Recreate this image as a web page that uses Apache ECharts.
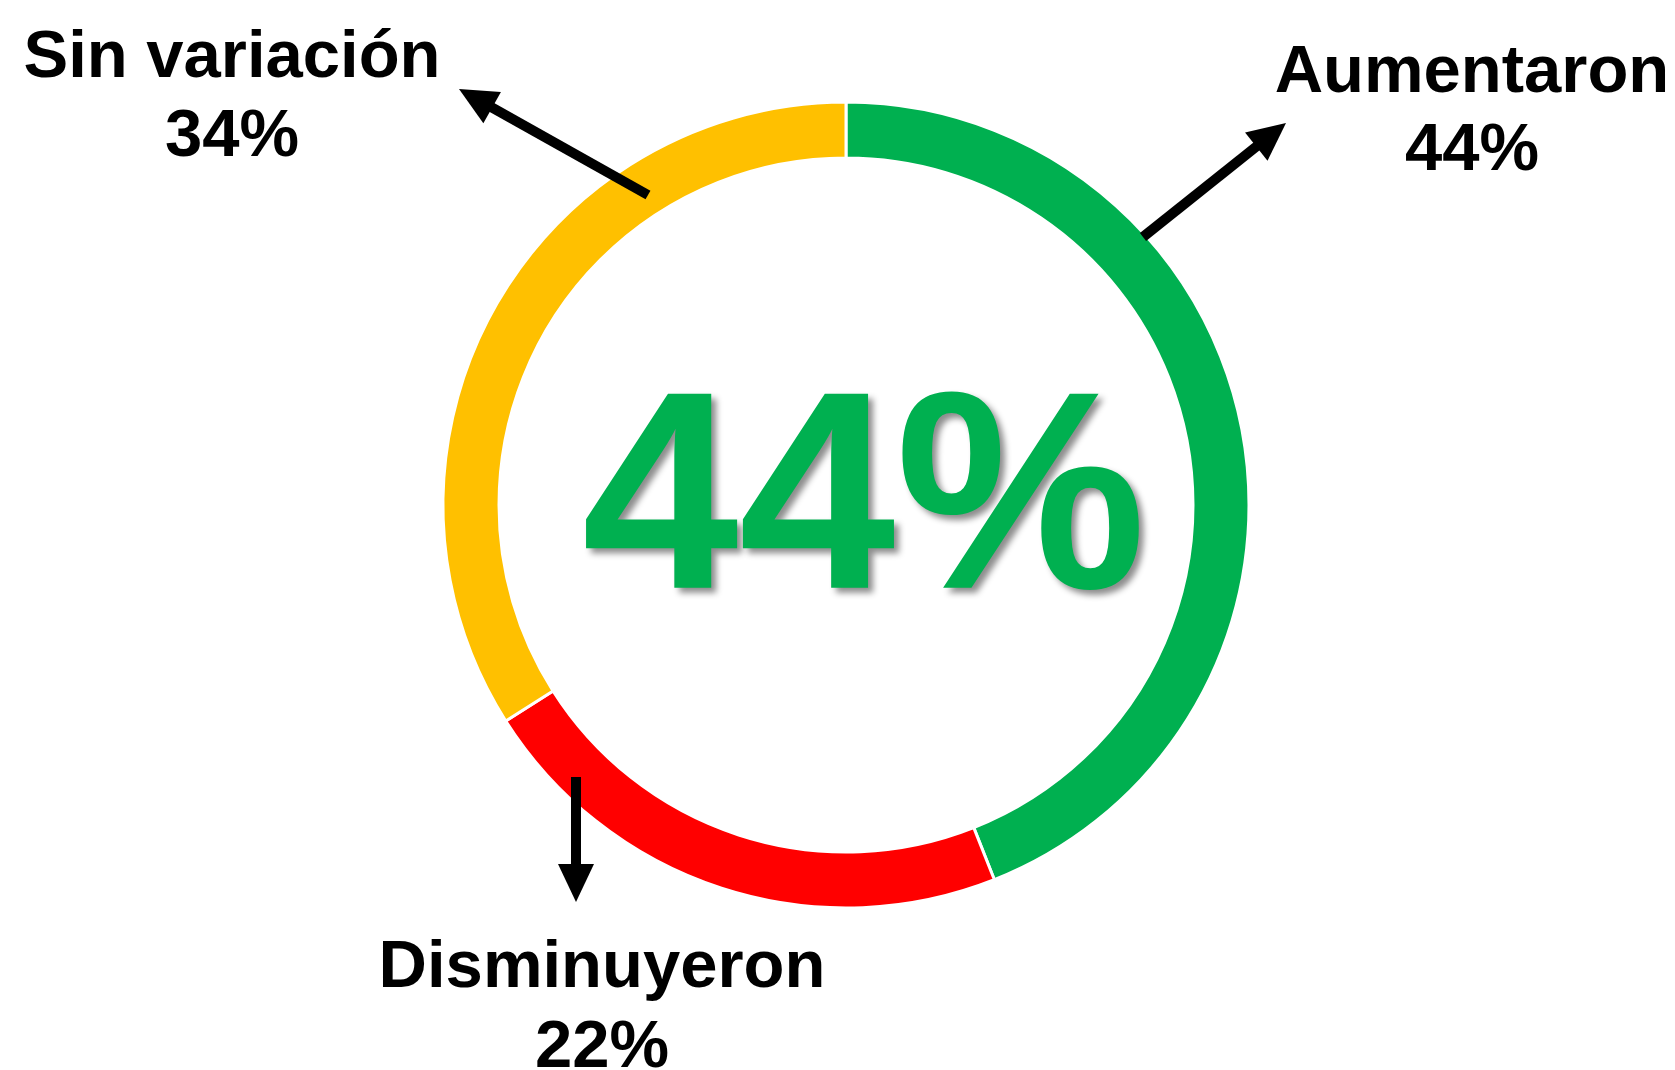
<!DOCTYPE html>
<html>
<head>
<meta charset="utf-8">
<script src="https://cdn.jsdelivr.net/npm/echarts@6/dist/echarts.min.js"></script>
<style>
  html, body { margin: 0; padding: 0; background: #fff; }
  #chart { width: 1675px; height: 1070px; }
</style>
</head>
<body>
<div id="chart"></div>
<script>
const categories = ['Aumentaron', 'Disminuyeron', 'Sin variación']
const values = [44, 22, 34]
const sliceColors = ['#00B050', '#FF0000', '#FFC000']

const chart = echarts.init(document.getElementById('chart'))

const font = '"Liberation Sans", Arial, sans-serif'

// annotation label placement: [centerX, line1 y, line2 y]
const labelPos = [
  [1472, 74, 152],
  [602, 969, 1049],
  [232, 59, 138]
]
// arrows: [fromX, fromY, toX, toY]
const arrows = [
  [1143, 237, 1286, 123],
  [576, 777, 576, 902],
  [648, 195, 459, 89]
]

const arrowGraphic = (a) => {
  const [x1, y1, x2, y2] = a
  const dx = x2 - x1, dy = y2 - y1
  const len = Math.sqrt(dx * dx + dy * dy)
  const ux = dx / len, uy = dy / len
  const headLen = 38, headW = 18
  const bx = x2 - ux * headLen, by = y2 - uy * headLen
  return [
    {
      type: 'line',
      z: 100,
      shape: { x1: x1, y1: y1, x2: bx + ux * 2, y2: by + uy * 2 },
      style: { stroke: '#000', lineWidth: 10 }
    },
    {
      type: 'polygon',
      z: 100,
      shape: {
        points: [
          [x2, y2],
          [bx - uy * headW, by + ux * headW],
          [bx + uy * headW, by - ux * headW]
        ]
      },
      style: { fill: '#000' }
    }
  ]
}

const labelGraphic = []
categories.forEach((name, i) => {
  const p = labelPos[i]
  labelGraphic.push({
    type: 'text', x: p[0], y: p[1], z: 100,
    style: { text: name, fill: '#000', font: 'bold 67px ' + font, align: 'center', verticalAlign: 'middle' }
  })
  labelGraphic.push({
    type: 'text', x: p[0], y: p[2], z: 100,
    style: { text: values[i] + '%', fill: '#000', font: 'bold 67px ' + font, align: 'center', verticalAlign: 'middle' }
  })
})

const option = {
  animation: false,
  series: [
    {
      type: 'pie',
      center: [846, 505],
      radius: [347, 403],
      startAngle: 90,
      clockwise: true,
      silent: true,
      z: 1,
      label: { show: false },
      labelLine: { show: false },
      itemStyle: { borderColor: '#fff', borderWidth: 3 },
      data: categories.map((c, i) => ({ name: c, value: values[i], itemStyle: { color: sliceColors[i] } }))
    }
  ],
  graphic: {
    z: 100,
    elements: [
      {
        type: 'text',
        x: 864,
        y: 510,
        z: 100,
        style: {
          text: values[0] + '%',
          fill: '#00B050',
          font: 'bold 282px ' + font,
          align: 'center',
          verticalAlign: 'middle',
          textShadowColor: 'rgba(0,0,0,0.45)',
          textShadowBlur: 6,
          textShadowOffsetX: 5,
          textShadowOffsetY: 5
        }
      },
      ...labelGraphic,
      ...arrows.flatMap(arrowGraphic)
    ]
  }
}

chart.setOption(option)
</script>
</body>
</html>
